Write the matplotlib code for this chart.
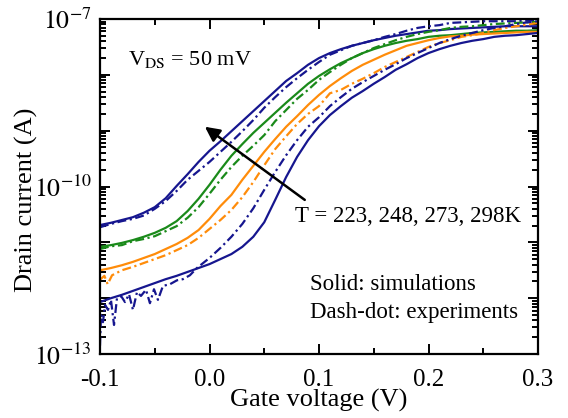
import numpy as np
import matplotlib
matplotlib.use("Agg")
import matplotlib.pyplot as plt
from matplotlib.ticker import MultipleLocator, FormatStrFormatter, LogLocator, FuncFormatter, NullFormatter

plt.rcParams['font.family'] = ['Liberation Serif', 'DejaVu Serif']
plt.rcParams['mathtext.fontset'] = 'stix'
plt.rcParams['axes.unicode_minus'] = False

# ---- data: gate voltage (V) and log10 of drain current (A) ----
vg = [-0.10, -0.09, -0.08, -0.07, -0.06, -0.05, -0.04, -0.03, -0.02, -0.01,
      0.00, 0.01, 0.02, 0.03, 0.04, 0.05, 0.06, 0.07, 0.08, 0.09,
      0.10, 0.11, 0.12, 0.13, 0.14, 0.15, 0.16, 0.17, 0.18, 0.19,
      0.20, 0.21, 0.22, 0.23, 0.24, 0.25, 0.26, 0.27, 0.28, 0.29, 0.30]

# simulations (solid)
sim_298 = [-10.69, -10.65, -10.60, -10.55, -10.47, -10.37, -10.21, -9.99, -9.78, -9.56,
           -9.36, -9.19, -9.01, -8.83, -8.65, -8.47, -8.29, -8.11, -7.97, -7.82,
           -7.70, -7.61, -7.54, -7.48, -7.43, -7.38, -7.34, -7.30, -7.27, -7.24,
           -7.21, -7.20, -7.18, -7.17, -7.16, -7.15, -7.14, -7.13, -7.13, -7.13, -7.13]
sim_273 = [-11.08, -11.05, -11.01, -10.96, -10.90, -10.83, -10.74, -10.62, -10.44, -10.22,
           -9.97, -9.70, -9.45, -9.24, -9.04, -8.86, -8.68, -8.50, -8.33, -8.16,
           -8.02, -7.90, -7.79, -7.70, -7.61, -7.54, -7.48, -7.43, -7.39, -7.36,
           -7.32, -7.30, -7.29, -7.27, -7.25, -7.24, -7.23, -7.22, -7.21, -7.21, -7.20]
sim_248 = [-11.50, -11.46, -11.41, -11.35, -11.28, -11.21, -11.12, -11.03, -10.92, -10.78,
           -10.58, -10.35, -10.15, -9.88, -9.63, -9.38, -9.15, -8.93, -8.74, -8.54,
           -8.36, -8.20, -8.06, -7.93, -7.82, -7.73, -7.64, -7.56, -7.48, -7.43,
           -7.38, -7.34, -7.31, -7.30, -7.28, -7.27, -7.26, -7.25, -7.24, -7.23, -7.23]
sim_223 = [-12.07, -12.00, -11.94, -11.87, -11.80, -11.73, -11.66, -11.60, -11.53, -11.46,
           -11.39, -11.30, -11.21, -11.08, -10.90, -10.64, -10.24, -9.83, -9.47, -9.17,
           -8.92, -8.72, -8.56, -8.41, -8.29, -8.16, -8.04, -7.91, -7.81, -7.70,
           -7.61, -7.54, -7.48, -7.43, -7.39, -7.36, -7.32, -7.30, -7.29, -7.27, -7.25]

# experiments (dash-dot)
exp_298_v = vg
exp_298 = [-10.73, -10.67, -10.62, -10.58, -10.52, -10.40, -10.26, -10.08, -9.88, -9.72,
           -9.56, -9.38, -9.20, -9.01, -8.81, -8.59, -8.40, -8.22, -8.06, -7.91,
           -7.77, -7.64, -7.56, -7.48, -7.43, -7.38, -7.32, -7.27, -7.21, -7.16,
           -7.13, -7.11, -7.07, -7.06, -7.05, -7.04, -7.04, -7.04, -7.04, -7.03, -7.02]

exp_273_v = vg
exp_273 = [-11.12, -11.07, -11.05, -10.98, -10.94, -10.89, -10.80, -10.71, -10.56, -10.37,
           -10.13, -9.88, -9.65, -9.45, -9.27, -9.08, -8.83, -8.63, -8.43, -8.27,
           -8.09, -7.95, -7.82, -7.70, -7.61, -7.52, -7.45, -7.38, -7.32, -7.27,
           -7.23, -7.20, -7.16, -7.14, -7.13, -7.11, -7.09, -7.08, -7.07, -7.06, -7.05]

exp_248_v = [-0.100, -0.096, -0.093, -0.089, -0.085, -0.08, -0.07, -0.06, -0.05, -0.04,
             -0.03, -0.02, -0.01, 0.00, 0.01, 0.02, 0.03, 0.04, 0.05, 0.06,
             0.07, 0.08, 0.09, 0.10, 0.11, 0.12, 0.13, 0.14, 0.15, 0.16,
             0.17, 0.18, 0.19, 0.20, 0.21, 0.22, 0.23, 0.24, 0.25, 0.26,
             0.27, 0.28, 0.29, 0.30]
exp_248 = [-11.67, -11.60, -11.75, -11.59, -11.55, -11.50, -11.44, -11.37, -11.30, -11.23,
           -11.14, -11.05, -10.92, -10.76, -10.60, -10.42, -10.19, -9.92, -9.62, -9.33,
           -9.10, -8.88, -8.70, -8.56, -8.33, -8.27, -8.16, -8.07, -7.97, -7.86,
           -7.77, -7.68, -7.59, -7.50, -7.43, -7.38, -7.32, -7.29, -7.25, -7.20,
           -7.16, -7.13, -7.10, -7.07]

exp_223_v = [-0.1000, -0.0991, -0.0973, -0.0954, -0.0927, -0.0900, -0.0872, -0.0845, -0.0808,
             -0.0772, -0.0735, -0.0699, -0.0662, -0.0626, -0.0580, -0.0544, -0.0507, -0.0471,
             -0.0425, -0.0361, -0.0297, -0.0243, -0.0179, -0.0115,
             0.00, 0.01, 0.02, 0.03, 0.04, 0.05, 0.06, 0.07, 0.08, 0.09,
             0.10, 0.11, 0.12, 0.13, 0.14, 0.15, 0.16, 0.17, 0.18, 0.19,
             0.20, 0.21, 0.22, 0.23, 0.24, 0.25, 0.26, 0.27, 0.28, 0.29, 0.30]
exp_223 = [-12.85, -12.30, -12.43, -12.12, -12.21, -12.03, -12.48, -12.00, -11.96,
           -12.07, -11.93, -12.21, -11.89, -11.96, -11.85, -12.09, -11.84, -12.03,
           -11.78, -11.75, -11.68, -11.66, -11.59, -11.46,
           -11.28, -11.10, -10.90, -10.67, -10.39, -10.06, -9.74, -9.44, -9.17, -8.93,
           -8.76, -8.56, -8.40, -8.25, -8.13, -8.02, -7.91, -7.81, -7.70, -7.61,
           -7.52, -7.43, -7.36, -7.30, -7.25, -7.20, -7.16, -7.13, -7.09, -7.06, -7.04]

BLUE = '#16168f'
GREEN = '#1a8a1a'
ORANGE = '#ff8c0a'

fig = plt.figure(figsize=(5.68, 4.18), dpi=100)
ax = fig.add_axes([100/568, 64/418, 438/568, 335/418])

dd = (0, (4, 1.6, 1, 1.6))
lw = 1.6
series = [
    (vg, sim_298, BLUE, '-'), (exp_298_v, exp_298, BLUE, dd),
    (vg, sim_273, GREEN, '-'), (exp_273_v, exp_273, GREEN, dd),
    (vg, sim_248, ORANGE, '-'), (exp_248_v, exp_248, ORANGE, dd),
    (vg, sim_223, BLUE, '-'), (exp_223_v, exp_223, BLUE, dd),
]
for xv, yv, c, ls in series:
    ax.plot(xv, 10 ** np.array(yv), color=c, ls=ls, lw=lw)

ax.set_yscale('log')
ax.set_xlim(-0.1, 0.3)
ax.set_ylim(1e-13, 1e-7)

ax.xaxis.set_major_locator(MultipleLocator(0.1))
ax.xaxis.set_minor_locator(MultipleLocator(0.05))
ax.xaxis.set_major_formatter(FormatStrFormatter('%.1f'))

ax.yaxis.set_major_locator(LogLocator(base=10, numticks=20))
ax.yaxis.set_minor_locator(LogLocator(base=10, subs=np.arange(2, 10), numticks=20))
ax.yaxis.set_minor_formatter(NullFormatter())

def yfmt(v, pos):
    e = int(round(np.log10(v)))
    return r'$10^{%d}$' % e if e in (-13, -10, -7) else ''
ax.yaxis.set_major_formatter(FuncFormatter(yfmt))

for s in ax.spines.values():
    s.set_linewidth(1.6)
ax.tick_params(which='both', direction='in', top=True, right=True, width=1.4)
ax.tick_params(which='major', length=7)
ax.tick_params(which='minor', length=4)
ax.tick_params(axis='x', which='major', labelsize=18, pad=10.5)
ax.tick_params(axis='y', which='major', labelsize=18.5, pad=6)

ax.set_xlabel('Gate voltage (V)', fontsize=19)
ax.set_ylabel('Drain current (A)', fontsize=19)
ax.xaxis.set_label_coords(0.5, -0.104)
ax.yaxis.set_label_coords(-0.142, 0.46)

ax.text(0.064, 0.863, r'V$_{\mathrm{DS}}$ = 50 mV', transform=ax.transAxes, fontsize=16,
        va='baseline', ha='left')
ax.text(0.445, 0.394, 'T = 223, 248, 273, 298K', transform=ax.transAxes, fontsize=16.5,
        va='baseline', ha='left')
ax.text(0.479, 0.191, 'Solid: simulations', transform=ax.transAxes, fontsize=16.5,
        va='baseline', ha='left')
ax.text(0.479, 0.107, 'Dash-dot: experiments', transform=ax.transAxes, fontsize=16.5,
        va='baseline', ha='left')

ax.annotate('', xy=(-0.0042, 10 ** -8.93), xytext=(0.087, 10 ** -10.24),
            arrowprops=dict(arrowstyle='-|>', lw=1.8, color='black', mutation_scale=22,
                            shrinkA=0, shrinkB=0))

fig.savefig('out.png', dpi=100)
